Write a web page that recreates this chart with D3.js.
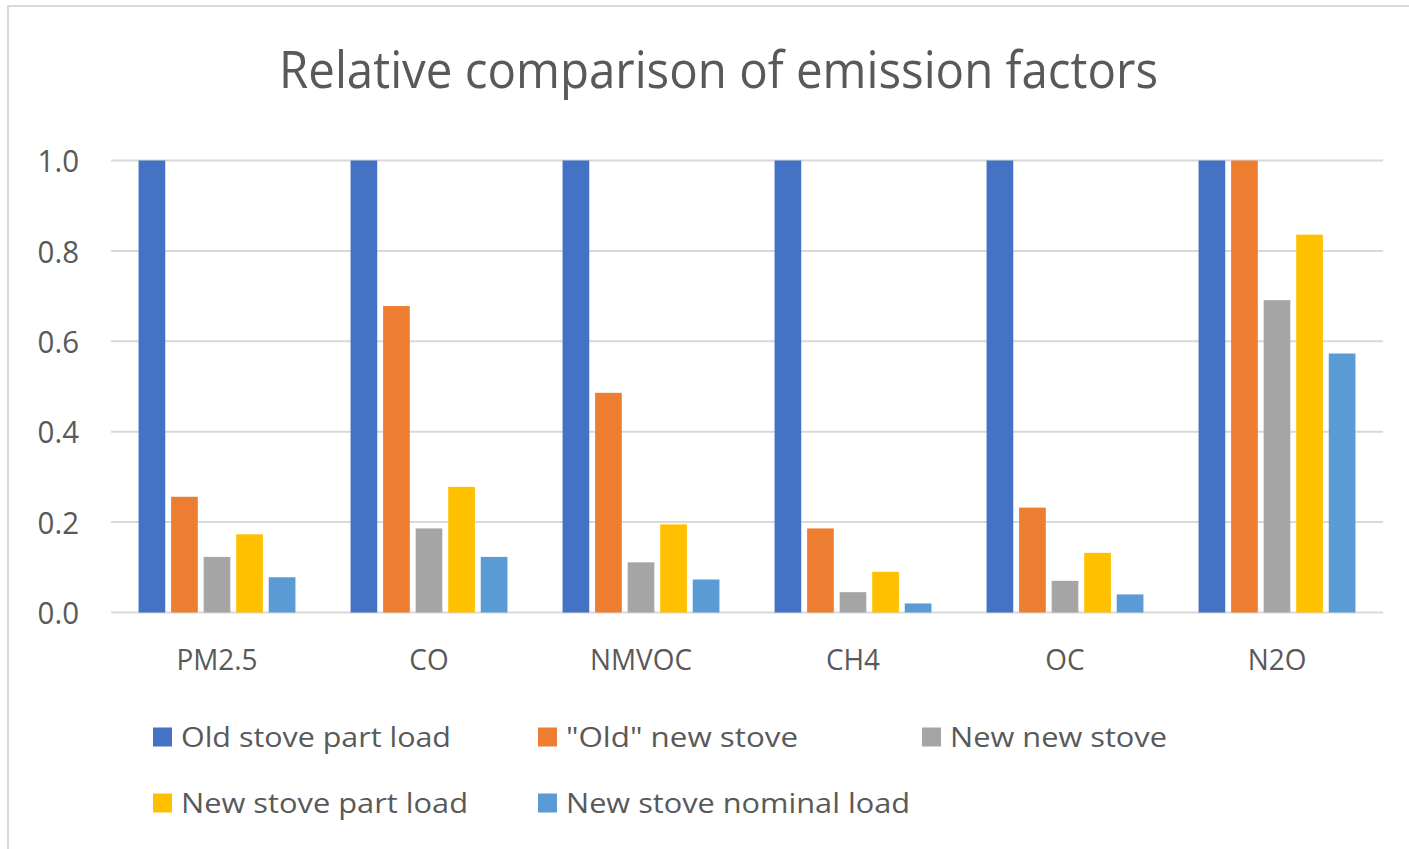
<!DOCTYPE html>
<html>
<head>
<meta charset="utf-8">
<title>Relative comparison of emission factors</title>
<script src="https://cdn.jsdelivr.net/npm/d3@7"></script>
<style>
  html, body { margin: 0; padding: 0; background: #fff; }
  svg { display: block; }
  text { font-family: "Open Sans", "Noto Sans", sans-serif; fill: #595959; }
</style>
</head>
<body>
<div id="chart"></div>
<script>
// Data
const categories = ['PM2.5', 'CO', 'NMVOC', 'CH4', 'OC', 'N2O'];
const seriesNames = ['Old stove part load', '"Old" new stove', 'New new stove', 'New stove part load', 'New stove nominal load'];
const seriesColors = ['#4472C4', '#ED7D31', '#A5A5A5', '#FFC000', '#5B9BD5'];

const oldStovePartLoad   = [1.0, 1.0, 1.0, 1.0, 1.0, 1.0];
const oldNewStove        = [0.256, 0.678, 0.486, 0.186, 0.232, 1.0];
const newNewStove        = [0.123, 0.186, 0.111, 0.045, 0.070, 0.691];
const newStovePartLoad   = [0.173, 0.278, 0.195, 0.090, 0.132, 0.836];
const newStoveNominal    = [0.078, 0.123, 0.073, 0.020, 0.040, 0.573];
const seriesValues = [oldStovePartLoad, oldNewStove, newNewStove, newStovePartLoad, newStoveNominal];

const yTicks = [0, 0.2, 0.4, 0.6, 0.8, 1.0];

const width = 1409;
const height = 849;
const plot = { left: 111, right: 1383, top: 160.5, bottom: 612.5 };

const svg = d3.select('#chart')
  .append('svg')
  .attr('width', width)
  .attr('height', height);

svg.append('rect')
  .attr('width', width)
  .attr('height', height)
  .attr('fill', '#fff');

// chart area border (only top/left visible in the crop)
svg.append('rect')
  .attr('x', 8)
  .attr('y', 6)
  .attr('width', width + 20)
  .attr('height', height + 20)
  .attr('fill', 'none')
  .attr('stroke', '#d9d9d9')
  .attr('stroke-width', 2);

// squeeze text horizontally to a Calibri-like width
function fitWidth(sel, w) {
  sel.each(function () {
    this.setAttribute('textLength', w);
    this.setAttribute('lengthAdjust', 'spacingAndGlyphs');
  });
}
function narrow(sel, factor) {
  sel.each(function () {
    const len = this.getComputedTextLength();
    this.setAttribute('textLength', len * factor);
    this.setAttribute('lengthAdjust', 'spacingAndGlyphs');
  });
}

// Title
svg.append('text')
  .attr('x', 718.5)
  .attr('y', 88)
  .attr('text-anchor', 'middle')
  .attr('font-size', 52)
  .text('Relative comparison of emission factors')
  .call(fitWidth, 879);

// Scales
const x0 = d3.scaleBand()
  .domain(categories)
  .range([plot.left, plot.right])
  .paddingInner(0.26)
  .paddingOuter(0.13);

const x1 = d3.scaleBand()
  .domain(d3.range(seriesNames.length))
  .range([0, x0.bandwidth()])
  .paddingInner(0.18)
  .paddingOuter(0);

const y = d3.scaleLinear()
  .domain([0, 1])
  .range([plot.bottom, plot.top]);

// Gridlines
svg.append('g')
  .selectAll('line')
  .data(yTicks)
  .join('line')
  .attr('x1', plot.left)
  .attr('x2', plot.right)
  .attr('y1', d => y(d))
  .attr('y2', d => y(d))
  .attr('stroke', '#d9d9d9')
  .attr('stroke-width', 2);

// Y axis labels
const yAxis = svg.append('g')
  .attr('transform', `translate(79,0)`)
  .call(d3.axisLeft(y).tickValues(yTicks).tickFormat(d3.format('.1f')).tickSize(0).tickPadding(0));
yAxis.select('.domain').remove();
yAxis.selectAll('text')
  .attr('font-size', 31)
  .attr('dy', '0.36em')
  .attr('fill', '#595959')
  .style('font-family', '"Open Sans", "Noto Sans", sans-serif')
  .call(narrow, 0.95);

// Bars
const rows = categories.map((c, i) => ({
  category: c,
  values: seriesValues.map((s, k) => ({ k, value: s[i] }))
}));

svg.append('g')
  .selectAll('g')
  .data(rows)
  .join('g')
  .attr('transform', d => `translate(${x0(d.category)},0)`)
  .selectAll('rect')
  .data(d => d.values)
  .join('rect')
  .attr('x', d => x1(d.k))
  .attr('width', x1.bandwidth())
  .attr('y', d => y(d.value))
  .attr('height', d => y(0) - y(d.value))
  .attr('fill', d => seriesColors[d.k]);

// X axis labels
const xAxis = svg.append('g')
  .attr('transform', `translate(0,${plot.bottom})`)
  .call(d3.axisBottom(x0).tickSize(0).tickPadding(0));
xAxis.select('.domain').remove();
xAxis.selectAll('text')
  .attr('font-size', 30)
  .attr('y', 57)
  .attr('dy', 0)
  .attr('fill', '#595959')
  .style('font-family', '"Open Sans", "Noto Sans", sans-serif')
  .call(narrow, 0.93);

// Legend
const legendCols = [153, 538, 922];
const legendRows = [737, 803];
const legendWidths = [270, 232, 217, 287, 344];

const legend = svg.append('g')
  .selectAll('g')
  .data(seriesNames)
  .join('g')
  .attr('transform', (d, i) => `translate(${legendCols[i % 3]},${legendRows[Math.floor(i / 3)]})`);

legend.append('rect')
  .attr('x', 0)
  .attr('y', -9.5)
  .attr('width', 19)
  .attr('height', 19)
  .attr('fill', (d, i) => seriesColors[i]);

legend.append('text')
  .attr('x', 28)
  .attr('y', 10)
  .attr('font-size', 27)
  .text(d => d)
  .each(function (d, i) { fitWidth(d3.select(this), legendWidths[i]); });
</script>
</body>
</html>
